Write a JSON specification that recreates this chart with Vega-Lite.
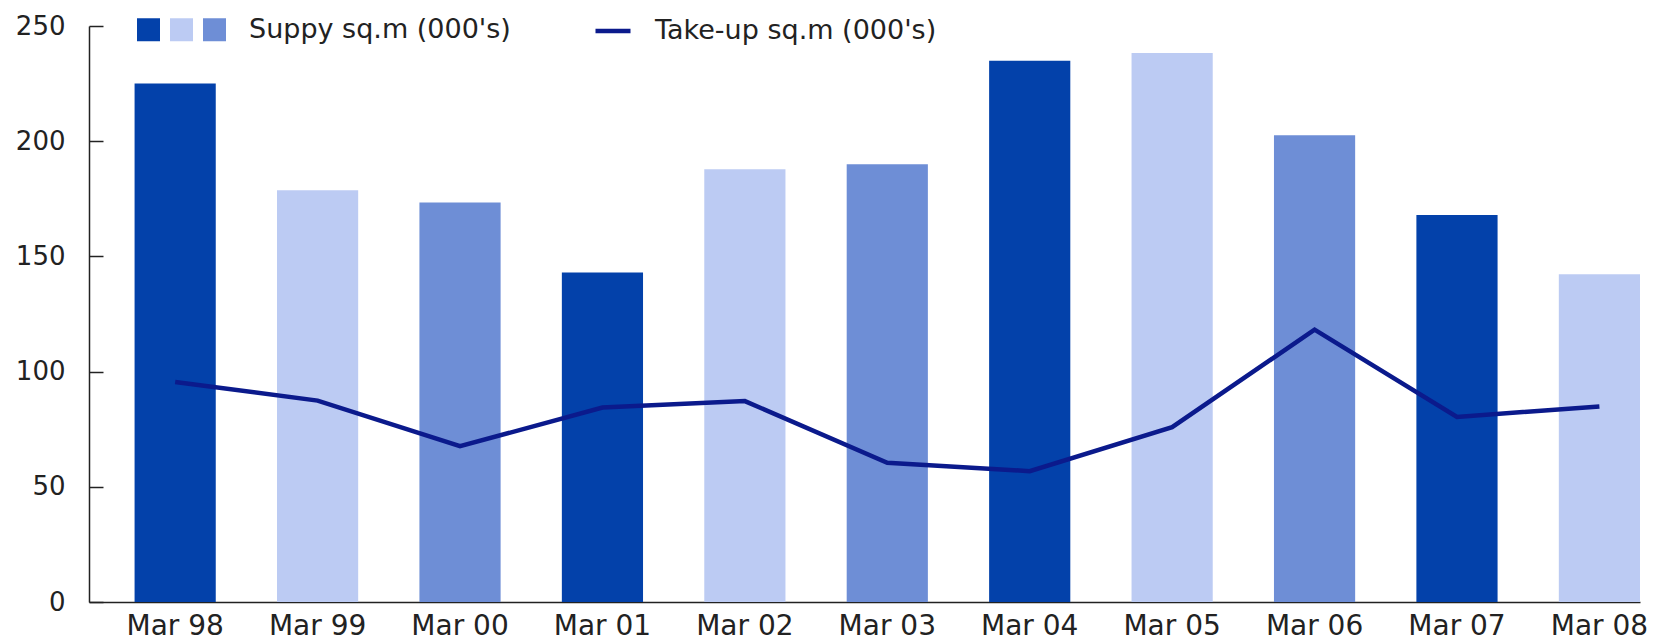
{
  "$schema": "https://vega.github.io/schema/vega-lite/v6.json",
  "autosize": "none",
  "width": 1551,
  "height": 576,
  "padding": {"left": 89, "top": 26, "right": 27, "bottom": 40},
  "background": "white",
  "config": {
    "view": {"stroke": null},
    "font": "DejaVu Sans",
    "axis": {"labelFont": "DejaVu Sans", "labelColor": "#222222", "domainColor": "#222222", "tickColor": "#222222", "domainWidth": 1.5, "tickWidth": 1.5, "title": null, "grid": false},
    "legend": {"labelFont": "DejaVu Sans", "labelFontSize": 27, "labelColor": "#222222", "labelLimit": 0}
  },
  "data": {
    "values": [
      {"period": "Mar 98", "supply": 225, "takeup": 95.5},
      {"period": "Mar 99", "supply": 178.7, "takeup": 87.4},
      {"period": "Mar 00", "supply": 173.4, "takeup": 67.6},
      {"period": "Mar 01", "supply": 143, "takeup": 84.4},
      {"period": "Mar 02", "supply": 187.8, "takeup": 87.2},
      {"period": "Mar 03", "supply": 190, "takeup": 60.4},
      {"period": "Mar 04", "supply": 234.9, "takeup": 56.8},
      {"period": "Mar 05", "supply": 238.3, "takeup": 75.9},
      {"period": "Mar 06", "supply": 202.6, "takeup": 118.2},
      {"period": "Mar 07", "supply": 168, "takeup": 80.3},
      {"period": "Mar 08", "supply": 142.2, "takeup": 84.9}
    ]
  },
  "encoding": {
    "x": {
      "field": "period",
      "type": "nominal",
      "sort": null,
      "scale": {"paddingInner": 0.43, "paddingOuter": 0.16, "align": 1},
      "axis": {"labelAngle": 0, "ticks": false, "labelPadding": 10, "labelFontSize": 28}
    }
  },
  "layer": [
    {
      "mark": {"type": "bar"},
      "encoding": {
        "y": {
          "field": "supply",
          "type": "quantitative",
          "scale": {"domain": [0, 250], "nice": false, "zero": true},
          "axis": {"values": [0, 50, 100, 150, 200, 250], "tickSize": -14, "labelPadding": 38, "labelFontSize": 26}
        },
        "color": {
          "field": "period",
          "type": "nominal",
          "sort": null,
          "scale": {
            "domain": ["Mar 98", "Mar 99", "Mar 00", "Mar 01", "Mar 02", "Mar 03", "Mar 04", "Mar 05", "Mar 06", "Mar 07", "Mar 08"],
            "range": ["#0341aa", "#bccbf3", "#6e8ed6", "#0341aa", "#bccbf3", "#6e8ed6", "#0341aa", "#bccbf3", "#6e8ed6", "#0341aa", "#bccbf3"]
          },
          "legend": {
            "orient": "none",
            "direction": "horizontal",
            "legendX": 46,
            "legendY": -10,
            "title": null,
            "values": ["Mar 98", "Mar 99", "Mar 00"],
            "labelExpr": "datum.value == 'Mar 00' ? \"Suppy sq.m (000's)\" : ''",
            "symbolType": "square",
            "symbolSize": 529,
            "symbolStrokeWidth": 0,
            "symbolOpacity": 1,
            "labelOffset": 4,
            "columnPadding": 2,
            "encode": {"labels": {"update": {"dx": [{"test": "datum.value !== 'Mar 00'", "value": 0}, {"value": 17}]}}}
          }
        }
      }
    },
    {
      "mark": {"type": "line", "strokeWidth": 4.5},
      "encoding": {
        "y": {"field": "takeup", "type": "quantitative", "scale": {"domain": [0, 250], "nice": false}},
        "stroke": {
          "datum": "Take-up sq.m (000's)",
          "scale": {"range": ["#0b1a8c"]},
          "legend": {
            "orient": "none",
            "direction": "horizontal",
            "legendX": 504,
            "legendY": -15,
            "title": null,
            "symbolType": "stroke",
            "symbolSize": 1225,
            "symbolStrokeWidth": 4.5,
            "labelOffset": 22
          }
        }
      }
    }
  ]
}
